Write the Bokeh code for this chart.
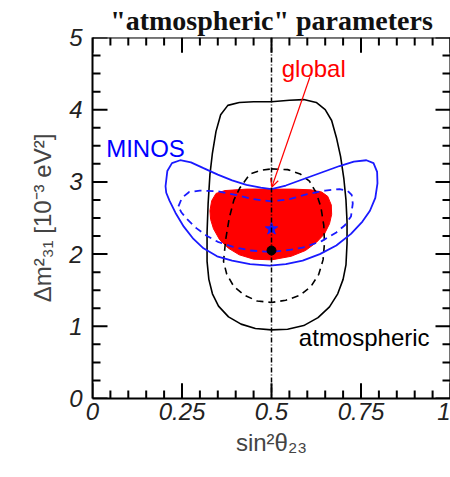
from bokeh.plotting import figure
from bokeh.models import FixedTicker, Label, Arrow, OpenHead, Range1d, Span, ColumnDataSource
from bokeh.embed import file_html
from bokeh.resources import INLINE

# ---------------- data ----------------
title_text = '"atmospheric" parameters'
x_label = "sin²θ₂₃"
y_label = "Δm²₃₁ [10⁻³ eV²]"

x_ticks = [0, 0.25, 0.5, 0.75, 1]
x_tick_labels = ["0", "0.25", "0.5", "0.75", "1"]
x_minor = [round(i * 0.05, 2) for i in range(21)]
y_ticks = [0, 1, 2, 3, 4, 5]
y_tick_labels = ["0", "1", "2", "3", "4", "5"]
y_minor = [i * 0.25 for i in range(21)]

# atmospheric 90% C.L. (solid black)
atm90_x = [0.50, 0.55, 0.59, 0.625, 0.650, 0.668, 0.682, 0.693, 0.702, 0.708, 0.711, 0.711, 0.708, 0.700,
           0.685, 0.662, 0.630, 0.590, 0.545, 0.50, 0.455, 0.415, 0.380, 0.352, 0.335, 0.325, 0.320, 0.320,
           0.323, 0.328, 0.335, 0.345, 0.358, 0.378, 0.41, 0.45, 0.50]
atm90_y = [4.11, 4.13, 4.14, 4.10, 4.00, 3.85, 3.60, 3.35, 3.05, 2.75, 2.45, 2.15, 1.85, 1.65,
           1.45, 1.27, 1.12, 1.01, 0.96, 0.95, 0.97, 1.03, 1.13, 1.28, 1.45, 1.65, 1.90, 2.30,
           2.70, 3.10, 3.40, 3.70, 3.93, 4.06, 4.10, 4.11, 4.11]

# atmospheric 68% C.L. (dashed black)
atm68_x = [0.50, 0.545, 0.58, 0.606, 0.625, 0.638, 0.646, 0.648, 0.644, 0.632, 0.610, 0.580, 0.54, 0.50,
           0.46, 0.425, 0.395, 0.375, 0.366, 0.372, 0.382, 0.395, 0.412, 0.44, 0.47, 0.50]
atm68_y = [3.18, 3.17, 3.11, 3.01, 2.85, 2.65, 2.40, 2.15, 1.92, 1.72, 1.55, 1.43, 1.36, 1.33,
           1.35, 1.43, 1.55, 1.72, 1.90, 2.20, 2.50, 2.75, 2.92, 3.11, 3.16, 3.18]

# global fit region (red)
glob_x = [0.50, 0.56, 0.61, 0.64, 0.657, 0.667, 0.668, 0.662, 0.648, 0.625, 0.595, 0.555, 0.50, 0.45,
          0.41, 0.38, 0.355, 0.338, 0.330, 0.328, 0.333, 0.345, 0.37, 0.43, 0.50]
glob_y = [2.90, 2.90, 2.89, 2.86, 2.80, 2.68, 2.55, 2.42, 2.28, 2.16, 2.05, 1.97, 1.92, 1.93,
          1.99, 2.08, 2.20, 2.35, 2.48, 2.60, 2.74, 2.84, 2.88, 2.90, 2.90]

# MINOS 90% C.L. (solid blue)
minos90_x = [0.204, 0.209, 0.222, 0.245, 0.275, 0.31, 0.35, 0.39, 0.43, 0.47, 0.50, 0.54, 0.59, 0.64,
             0.69, 0.73, 0.765, 0.785, 0.795, 0.796, 0.790, 0.775, 0.754, 0.722, 0.681, 0.635, 0.587,
             0.54, 0.495, 0.44, 0.39, 0.348, 0.31, 0.282, 0.255, 0.232, 0.215, 0.206, 0.204]
minos90_y = [2.94, 3.15, 3.26, 3.30, 3.27, 3.19, 3.10, 3.02, 2.96, 2.92, 2.90, 2.95, 3.04, 3.13,
             3.22, 3.28, 3.30, 3.26, 3.14, 2.98, 2.78, 2.60, 2.45, 2.28, 2.12, 2.00, 1.91,
             1.86, 1.84, 1.86, 1.91, 1.97, 2.08, 2.21, 2.38, 2.57, 2.74, 2.85, 2.94]

# MINOS 68% C.L. (dashed blue)
minos68_x = [0.240, 0.250, 0.270, 0.30, 0.35, 0.40, 0.45, 0.50, 0.55, 0.60, 0.65, 0.69, 0.712, 0.724,
             0.727, 0.722, 0.705, 0.681, 0.64, 0.587, 0.54, 0.495, 0.44, 0.393, 0.35, 0.32, 0.29,
             0.265, 0.248, 0.240]
minos68_y = [2.66, 2.78, 2.86, 2.88, 2.87, 2.82, 2.76, 2.73, 2.76, 2.83, 2.88, 2.90, 2.88, 2.82,
             2.70, 2.52, 2.40, 2.30, 2.18, 2.09, 2.05, 2.03, 2.05, 2.10, 2.17, 2.25, 2.36,
             2.48, 2.58, 2.66]

maximal_mixing = 0.5
atm_best = ([0.5], [2.05])
minos_best = ([0.5], [2.35])

labels_text = ["global", "MINOS", "atmospheric"]
labels_x = [0.618, 0.148, 0.759]
labels_y = [4.57, 3.46, 0.85]
labels_color = ["red", "blue", "black"]

arrow_start = (0.607, 4.45)
arrow_end = (0.501, 2.93)

# ---------------- figure ----------------
x_lo, x_hi = x_ticks[0], x_ticks[-1]
y_lo, y_hi = y_ticks[0], y_ticks[-1]
FW, FH = 358, 358          # approximate frame size in px (for tick lengths)
MAJ, MIN = 15, 8           # inward tick lengths in px

p = figure(width=450, height=477, x_range=Range1d(x_lo, x_hi), y_range=Range1d(y_lo, y_hi),
           output_backend="svg", toolbar_location=None,
           min_border_left=92, min_border_right=0, min_border_top=35, min_border_bottom=79)
p.xgrid.grid_line_alpha = 0
p.ygrid.grid_line_alpha = 0

p.title.text = title_text
p.title.align = "center"
p.title.text_font = "Liberation Serif"
p.title.text_font_style = "bold"
p.title.text_font_size = "28px"
p.title.text_color = "#111111"
p.title.standoff = 4


def style_axis(ax, ticks, labels):
    ax.ticker = FixedTicker(ticks=ticks, minor_ticks=[])
    ax.major_tick_in = 0
    ax.major_tick_out = 0
    ax.minor_tick_in = 0
    ax.minor_tick_out = 0
    ax.axis_line_width = 2
    ax.major_label_overrides = {t: l for t, l in zip(ticks, labels)}
    ax.major_label_text_font = "Liberation Sans"
    ax.major_label_text_font_style = "italic"
    ax.major_label_text_font_size = "24px"
    ax.major_label_text_color = "#222222"


xa = p.xaxis[0]
style_axis(xa, x_ticks, x_tick_labels)
xa.major_label_standoff = 4
xa.axis_label = x_label
xa.axis_label_text_font = "Liberation Sans"
xa.axis_label_text_font_style = "normal"
xa.axis_label_text_font_size = "24px"
xa.axis_label_standoff = 6

ya = p.yaxis[0]
style_axis(ya, y_ticks, y_tick_labels)
ya.major_label_standoff = 10
ya.axis_label = y_label
ya.axis_label_text_font = "Liberation Sans"
ya.axis_label_text_font_style = "normal"
ya.axis_label_text_font_size = "24px"
ya.axis_label_standoff = 10

# frame edges on top and right
p.add_layout(Span(location=y_hi, dimension="width", line_color="black", line_width=2))
p.add_layout(Span(location=x_hi, dimension="height", line_color="black", line_width=2))

# inward ticks on all four edges, drawn as head-less arrow annotations
dy_maj = MAJ * (y_hi - y_lo) / FH
dy_min = MIN * (y_hi - y_lo) / FH
dx_maj = MAJ * (x_hi - x_lo) / FW
dx_min = MIN * (x_hi - x_lo) / FW
tx0, ty0, tx1, ty1 = [], [], [], []
for xs, dl in ((x_ticks, dy_maj), ([m for m in x_minor if m not in x_ticks], dy_min)):
    for x in xs:
        tx0 += [x, x]
        tx1 += [x, x]
        ty0 += [y_lo, y_hi]
        ty1 += [y_lo + dl, y_hi - dl]
for ys, dl in ((y_ticks, dx_maj), ([m for m in y_minor if m not in y_ticks], dx_min)):
    for y in ys:
        ty0 += [y, y]
        ty1 += [y, y]
        tx0 += [x_lo, x_hi]
        tx1 += [x_lo + dl, x_hi - dl]
tick_src = ColumnDataSource(dict(x0=tx0, y0=ty0, x1=tx1, y1=ty1))
p.add_layout(Arrow(start=None, end=None, source=tick_src, x_start="x0", y_start="y0",
                   x_end="x1", y_end="y1", line_color="black", line_width=2))

# global region
p.patch(glob_x, glob_y, fill_color="#ff0000", line_color="#ff0000", line_width=1)

# atmospheric contours
p.line(atm90_x, atm90_y, line_color="black", line_width=1.6)
p.line(atm68_x, atm68_y, line_color="black", line_width=1.6, line_dash="7 5")

# MINOS contours
p.line(minos90_x, minos90_y, line_color="#1a1aff", line_width=1.8)
p.line(minos68_x, minos68_y, line_color="#1a1aff", line_width=1.8, line_dash="7 5")

# maximal mixing line
p.add_layout(Span(location=maximal_mixing, dimension="height", line_color="black",
                  line_width=1.5, line_dash="5 2 1 2"))

# best fit points
p.scatter(atm_best[0], atm_best[1], marker="circle", size=9, color="black")
p.scatter(minos_best[0], minos_best[1], marker="star", size=13, color="#1a1aff")

# arrow
p.add_layout(Arrow(end=OpenHead(size=8, line_color="red", line_width=1.2),
                   x_start=arrow_start[0], y_start=arrow_start[1],
                   x_end=arrow_end[0], y_end=arrow_end[1],
                   line_color="red", line_width=1.2))

for t, x, y, c in zip(labels_text, labels_x, labels_y, labels_color):
    p.add_layout(Label(x=x, y=y, text=t, text_color=c, text_font="Liberation Sans",
                       text_font_size="24px", text_align="center", text_baseline="middle"))

open("out.html", "w").write(file_html(p, INLINE))
